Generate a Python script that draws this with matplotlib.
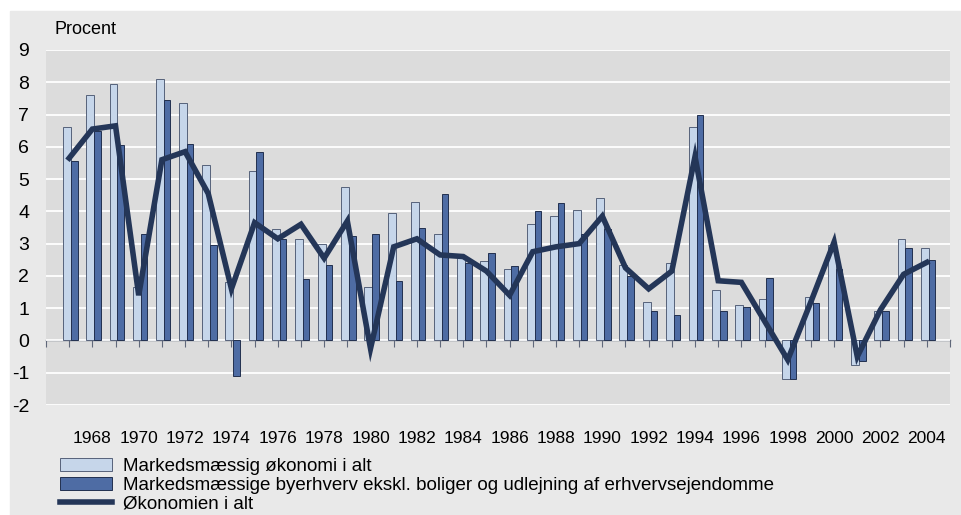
import numpy as np
import matplotlib
matplotlib.use("Agg")
import matplotlib.pyplot as plt
from matplotlib.patches import Rectangle

plt.rcParams['font.family'] = ['Liberation Sans', 'DejaVu Sans']
plt.rcParams['axes.unicode_minus'] = False

years = list(range(1967, 2005))

# Markedsmæssig økonomi i alt
market_total = [6.6, 7.6, 7.95, 1.65, 8.1, 7.35, 5.45, 1.8, 5.25, 3.45,
                3.15, 3.0, 4.75, 1.65, 3.95, 4.3, 3.3, 2.55, 2.45, 2.2,
                3.6, 3.85, 4.05, 4.4, 2.35, 1.2, 2.4, 6.6, 1.55, 1.1,
                1.3, -1.2, 1.35, 2.95, -0.75, 0.9, 3.15, 2.85]

# Markedsmæssige byerhverv ekskl. boliger og udlejning af erhvervsejendomme
urban_business = [5.55, 6.5, 6.05, 3.3, 7.45, 6.1, 2.95, -1.1, 5.85, 3.15,
                  1.9, 2.35, 3.25, 3.3, 1.85, 3.5, 4.55, 2.4, 2.7, 2.3,
                  4.0, 4.25, 3.3, 3.45, 2.0, 0.9, 0.8, 7.0, 0.9, 1.05,
                  1.95, -1.2, 1.15, 2.2, -0.65, 0.9, 2.85, 2.5]

# Økonomien i alt
economy_total = [5.65, 6.55, 6.65, 1.4, 5.6, 5.85, 4.55, 1.6, 3.65, 3.15,
                 3.6, 2.55, 3.7, -0.25, 2.9, 3.15, 2.65, 2.6, 2.15, 1.4,
                 2.75, 2.9, 3.0, 3.85, 2.25, 1.6, 2.15, 5.7, 1.85, 1.8,
                 0.6, -0.6, 1.2, 3.05, -0.5, 0.95, 2.05, 2.42]

labels = ['Markedsmæssig økonomi i alt',
          'Markedsmæssige byerhverv ekskl. boliger og udlejning af erhvervsejendomme',
          'Økonomien i alt']

x = np.array(years)
ymin, ymax = -2, 9

fig = plt.figure(figsize=(9.62, 5.15), dpi=100, facecolor='white')
# grey frame behind the chart
fig.patches.append(Rectangle((10 / 962, 0), 1, (515 - 11) / 515,
                             transform=fig.transFigure, color='#e9e9e9', zorder=-10))

ax = fig.add_axes([46 / 962, (515 - 405) / 515, (950 - 46) / 962, 355 / 515])
ax.set_facecolor('#dcdcdc')

b1 = ax.bar(x - 0.09, market_total, 0.34, color='#c6d6ea', edgecolor='#56627a',
            linewidth=0.7, zorder=3, label=labels[0])
b2 = ax.bar(x + 0.22, urban_business, 0.28, color='#4e6ca4', edgecolor='#22304f',
            linewidth=0.7, zorder=3, label=labels[1])
l1, = ax.plot(x, economy_total, color='#243658', lw=4.0, zorder=5,
              solid_joinstyle='miter', label=labels[2])

ax.set_xlim(1966, 2005)
ax.set_ylim(ymin, ymax)
ax.set_yticks(range(ymin, ymax + 1))
ax.yaxis.grid(True, color='white', lw=1.3)
ax.set_axisbelow(True)
for s in ax.spines.values():
    s.set_visible(False)

ax.set_xticks(range(1968, 2005, 2))
ax.tick_params(axis='x', length=0, pad=19, labelsize=12.5)
ax.tick_params(axis='y', length=0, pad=12, labelsize=14)

# zero line with a tick mark for every year
zero = ax.secondary_xaxis((0 - ymin) / (ymax - ymin))
zero.set_xticks(range(1966, 2006))
zero.set_xticklabels([])
zero.tick_params(axis='x', direction='out', length=5, width=0.8, color='#60687a')
zero.spines['bottom'].set_color('#60687a')
zero.spines['bottom'].set_linewidth(1.0)

fig.text(55 / 962, 1 - 30 / 515, 'Procent', fontsize=13, va='center', ha='left')

leg = fig.legend(handles=[b1, b2, l1], loc='upper left',
                 bbox_to_anchor=(60 / 962, 1 - 458 / 515), frameon=False,
                 fontsize=13.5, handlelength=2.8, handleheight=0.7,
                 handletextpad=0.55, labelspacing=0.08, borderpad=0,
                 borderaxespad=0)

fig.savefig('out.png', dpi=100, facecolor=fig.get_facecolor())
